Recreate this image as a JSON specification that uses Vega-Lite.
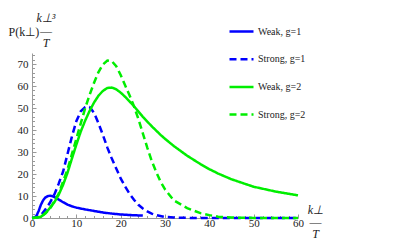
{
  "$schema": "https://vega.github.io/schema/vega-lite/v6.json",
  "autosize": {"type": "none"},
  "width": 266,
  "height": 165,
  "padding": {"left": 32, "top": 53, "right": 113, "bottom": 29},
  "background": "white",
  "config": {"view": {"stroke": null}, "font": "Liberation Serif"},
  "title": {
    "text": ["k⊥³", "―", "T"],
    "font": "Liberation Serif",
    "fontStyle": "italic",
    "fontSize": 12,
    "fontWeight": "normal",
    "lineHeight": 12.5,
    "anchor": "start",
    "align": "center",
    "baseline": "top",
    "frame": "group",
    "dx": 14,
    "dy": 32,
    "offset": 0,
    "color": "#222"
  },
  "data": {
    "values": [
      {"series": "Weak, g=1", "k": 0, "v": 0},
      {"series": "Weak, g=1", "k": 0.5, "v": 0.1},
      {"series": "Weak, g=1", "k": 1, "v": 1.0},
      {"series": "Weak, g=1", "k": 1.5, "v": 3.2},
      {"series": "Weak, g=1", "k": 2, "v": 6.0},
      {"series": "Weak, g=1", "k": 2.5, "v": 8.0},
      {"series": "Weak, g=1", "k": 3, "v": 9.3},
      {"series": "Weak, g=1", "k": 3.5, "v": 9.9},
      {"series": "Weak, g=1", "k": 4, "v": 10.1},
      {"series": "Weak, g=1", "k": 4.5, "v": 10.0},
      {"series": "Weak, g=1", "k": 5, "v": 9.6},
      {"series": "Weak, g=1", "k": 6, "v": 8.4},
      {"series": "Weak, g=1", "k": 7, "v": 7.2},
      {"series": "Weak, g=1", "k": 8, "v": 6.1},
      {"series": "Weak, g=1", "k": 9, "v": 5.3},
      {"series": "Weak, g=1", "k": 10, "v": 4.7},
      {"series": "Weak, g=1", "k": 12, "v": 3.9},
      {"series": "Weak, g=1", "k": 14, "v": 3.2},
      {"series": "Weak, g=1", "k": 16, "v": 2.5},
      {"series": "Weak, g=1", "k": 18, "v": 2.0},
      {"series": "Weak, g=1", "k": 20, "v": 1.6},
      {"series": "Weak, g=1", "k": 22, "v": 1.35},
      {"series": "Weak, g=1", "k": 25, "v": 1.1},

      {"series": "Strong, g=1", "k": 0, "v": 0},
      {"series": "Strong, g=1", "k": 1, "v": 0.2},
      {"series": "Strong, g=1", "k": 2, "v": 1.2},
      {"series": "Strong, g=1", "k": 3, "v": 3.8},
      {"series": "Strong, g=1", "k": 4, "v": 6.8},
      {"series": "Strong, g=1", "k": 5, "v": 10.5},
      {"series": "Strong, g=1", "k": 6, "v": 15.5},
      {"series": "Strong, g=1", "k": 7, "v": 21},
      {"series": "Strong, g=1", "k": 8, "v": 29},
      {"series": "Strong, g=1", "k": 9, "v": 37},
      {"series": "Strong, g=1", "k": 10, "v": 44},
      {"series": "Strong, g=1", "k": 11, "v": 48.5},
      {"series": "Strong, g=1", "k": 12, "v": 50.4},
      {"series": "Strong, g=1", "k": 12.6, "v": 50.7},
      {"series": "Strong, g=1", "k": 13, "v": 50.4},
      {"series": "Strong, g=1", "k": 14, "v": 47.8},
      {"series": "Strong, g=1", "k": 15, "v": 43},
      {"series": "Strong, g=1", "k": 16, "v": 37.7},
      {"series": "Strong, g=1", "k": 17, "v": 32},
      {"series": "Strong, g=1", "k": 18, "v": 27},
      {"series": "Strong, g=1", "k": 19, "v": 22.5},
      {"series": "Strong, g=1", "k": 20, "v": 18},
      {"series": "Strong, g=1", "k": 21, "v": 14.3},
      {"series": "Strong, g=1", "k": 22, "v": 11},
      {"series": "Strong, g=1", "k": 23, "v": 8.3},
      {"series": "Strong, g=1", "k": 24, "v": 6},
      {"series": "Strong, g=1", "k": 25, "v": 4.3},
      {"series": "Strong, g=1", "k": 26, "v": 3},
      {"series": "Strong, g=1", "k": 27, "v": 2},
      {"series": "Strong, g=1", "k": 28, "v": 1.3},
      {"series": "Strong, g=1", "k": 30, "v": 0.5},
      {"series": "Strong, g=1", "k": 32, "v": 0.2},
      {"series": "Strong, g=1", "k": 35, "v": 0.05},
      {"series": "Strong, g=1", "k": 40, "v": 0},
      {"series": "Strong, g=1", "k": 50, "v": 0},
      {"series": "Strong, g=1", "k": 60, "v": 0},

      {"series": "Weak, g=2", "k": 0, "v": 0},
      {"series": "Weak, g=2", "k": 1, "v": 0.1},
      {"series": "Weak, g=2", "k": 2, "v": 0.6},
      {"series": "Weak, g=2", "k": 3, "v": 2},
      {"series": "Weak, g=2", "k": 4, "v": 4.5},
      {"series": "Weak, g=2", "k": 5, "v": 7},
      {"series": "Weak, g=2", "k": 6, "v": 10.5},
      {"series": "Weak, g=2", "k": 7, "v": 15},
      {"series": "Weak, g=2", "k": 8, "v": 20.5},
      {"series": "Weak, g=2", "k": 9, "v": 27},
      {"series": "Weak, g=2", "k": 10, "v": 33.3},
      {"series": "Weak, g=2", "k": 11, "v": 39.3},
      {"series": "Weak, g=2", "k": 12, "v": 44.3},
      {"series": "Weak, g=2", "k": 13, "v": 48.7},
      {"series": "Weak, g=2", "k": 14, "v": 52.5},
      {"series": "Weak, g=2", "k": 15, "v": 55.6},
      {"series": "Weak, g=2", "k": 16, "v": 57.8},
      {"series": "Weak, g=2", "k": 17, "v": 59.1},
      {"series": "Weak, g=2", "k": 18, "v": 59.3},
      {"series": "Weak, g=2", "k": 19, "v": 58.5},
      {"series": "Weak, g=2", "k": 20, "v": 57},
      {"series": "Weak, g=2", "k": 21, "v": 55.1},
      {"series": "Weak, g=2", "k": 22, "v": 53},
      {"series": "Weak, g=2", "k": 23, "v": 50.8},
      {"series": "Weak, g=2", "k": 25, "v": 46},
      {"series": "Weak, g=2", "k": 27, "v": 41.7},
      {"series": "Weak, g=2", "k": 29, "v": 37.8},
      {"series": "Weak, g=2", "k": 30, "v": 36},
      {"series": "Weak, g=2", "k": 32, "v": 32.7},
      {"series": "Weak, g=2", "k": 35, "v": 28.3},
      {"series": "Weak, g=2", "k": 38, "v": 24.5},
      {"series": "Weak, g=2", "k": 40, "v": 22.2},
      {"series": "Weak, g=2", "k": 42, "v": 20.2},
      {"series": "Weak, g=2", "k": 45, "v": 17.6},
      {"series": "Weak, g=2", "k": 50, "v": 14.2},
      {"series": "Weak, g=2", "k": 55, "v": 12},
      {"series": "Weak, g=2", "k": 60, "v": 10.3},

      {"series": "Strong, g=2", "k": 0, "v": 0},
      {"series": "Strong, g=2", "k": 2, "v": 0.5},
      {"series": "Strong, g=2", "k": 4, "v": 4},
      {"series": "Strong, g=2", "k": 6, "v": 11},
      {"series": "Strong, g=2", "k": 8, "v": 22},
      {"series": "Strong, g=2", "k": 9, "v": 29},
      {"series": "Strong, g=2", "k": 10, "v": 36},
      {"series": "Strong, g=2", "k": 11, "v": 43},
      {"series": "Strong, g=2", "k": 12, "v": 50},
      {"series": "Strong, g=2", "k": 13, "v": 56},
      {"series": "Strong, g=2", "k": 14, "v": 61.5},
      {"series": "Strong, g=2", "k": 15, "v": 66.3},
      {"series": "Strong, g=2", "k": 16, "v": 69.8},
      {"series": "Strong, g=2", "k": 17, "v": 71.6},
      {"series": "Strong, g=2", "k": 18, "v": 71.3},
      {"series": "Strong, g=2", "k": 19, "v": 69},
      {"series": "Strong, g=2", "k": 20, "v": 65},
      {"series": "Strong, g=2", "k": 21, "v": 60.3},
      {"series": "Strong, g=2", "k": 22, "v": 55.8},
      {"series": "Strong, g=2", "k": 23, "v": 50.8},
      {"series": "Strong, g=2", "k": 24, "v": 45},
      {"series": "Strong, g=2", "k": 25, "v": 38.5},
      {"series": "Strong, g=2", "k": 26, "v": 32},
      {"series": "Strong, g=2", "k": 27, "v": 26},
      {"series": "Strong, g=2", "k": 28, "v": 21},
      {"series": "Strong, g=2", "k": 29, "v": 16.5},
      {"series": "Strong, g=2", "k": 30, "v": 13},
      {"series": "Strong, g=2", "k": 32, "v": 8},
      {"series": "Strong, g=2", "k": 35, "v": 4.5},
      {"series": "Strong, g=2", "k": 38, "v": 2.2},
      {"series": "Strong, g=2", "k": 40, "v": 1.3},
      {"series": "Strong, g=2", "k": 42, "v": 0.6},
      {"series": "Strong, g=2", "k": 45, "v": 0.2},
      {"series": "Strong, g=2", "k": 50, "v": 0.05},
      {"series": "Strong, g=2", "k": 55, "v": 0},
      {"series": "Strong, g=2", "k": 60, "v": 0}
    ]
  },
  "mark": {"type": "line", "strokeWidth": 2.5},
  "encoding": {
    "x": {
      "field": "k",
      "type": "quantitative",
      "scale": {"domain": [0, 60], "nice": false, "zero": false},
      "axis": {
        "values": [0,2,4,6,8,10,12,14,16,18,20,22,24,26,28,30,32,34,36,38,40,42,44,46,48,50,52,54,56,58,60],
        "labelExpr": "datum.value % 10 === 0 ? datum.label : ''",
        "labelOverlap": false,
        "labelFlush": false,
        "grid": false,
        "domainColor": "#999",
        "tickColor": "#999",
        "tickSize": {"condition": {"test": "datum.value % 10 === 0", "value": -4}, "value": -2.5},
        "labelFont": "Liberation Serif",
        "labelFontSize": 11,
        "labelColor": "#222",
        "labelPadding": 3,
        "title": ["k⊥", "―", "T"],
        "titleFont": "Liberation Serif",
        "titleFontStyle": "italic",
        "titleFontWeight": "normal",
        "titleFontSize": 12,
        "titleLineHeight": 12,
        "titleColor": "#222",
        "titleAlign": "center",
        "titleBaseline": "top",
        "titleX": 283,
        "titleY": -14
      }
    },
    "y": {
      "field": "v",
      "type": "quantitative",
      "scale": {"domain": [0, 75], "nice": false},
      "axis": {
        "values": [0,2,4,6,8,10,12,14,16,18,20,22,24,26,28,30,32,34,36,38,40,42,44,46,48,50,52,54,56,58,60,62,64,66,68,70,72,74],
        "labelExpr": "datum.value % 10 === 0 ? datum.label : ''",
        "labelOverlap": false,
        "labelFlush": false,
        "grid": false,
        "domainColor": "#999",
        "tickColor": "#999",
        "tickSize": {"condition": {"test": "datum.value % 10 === 0", "value": -4}, "value": -2.5},
        "labelFont": "Liberation Serif",
        "labelFontSize": 11,
        "labelColor": "#222",
        "labelPadding": 8,
        "title": "P(k⊥)",
        "titleFont": "Liberation Serif",
        "titleFontWeight": "normal",
        "titleFontSize": 12,
        "titleColor": "#222",
        "titleAngle": 0,
        "titleAlign": "left",
        "titleBaseline": "middle",
        "titleX": -24,
        "titleY": -22
      }
    },
    "color": {
      "field": "series",
      "type": "nominal",
      "sort": ["Weak, g=1", "Strong, g=1", "Weak, g=2", "Strong, g=2"],
      "scale": {
        "domain": ["Weak, g=1", "Strong, g=1", "Weak, g=2", "Strong, g=2"],
        "range": ["#0000ff", "#0000ff", "#00ee00", "#00ee00"]
      },
      "legend": {
        "title": null,
        "orient": "none",
        "legendX": 196,
        "legendY": -35,
        "symbolType": "stroke",
        "symbolSize": 576,
        "symbolStrokeWidth": 2.5,
        "labelFont": "Liberation Serif",
        "labelFontSize": 10,
        "labelColor": "#222",
        "labelOffset": 3,
        "rowPadding": 8.7
      }
    },
    "strokeDash": {
      "field": "series",
      "type": "nominal",
      "sort": ["Weak, g=1", "Strong, g=1", "Weak, g=2", "Strong, g=2"],
      "scale": {
        "domain": ["Weak, g=1", "Strong, g=1", "Weak, g=2", "Strong, g=2"],
        "range": [[1, 0], [7, 4], [1, 0], [7, 4]]
      },
      "legend": {
        "title": null,
        "orient": "none",
        "legendX": 196,
        "legendY": -35,
        "symbolType": "stroke",
        "symbolSize": 576,
        "symbolStrokeWidth": 2.5,
        "labelFont": "Liberation Serif",
        "labelFontSize": 10,
        "labelColor": "#222",
        "labelOffset": 3,
        "rowPadding": 8.7
      }
    }
  }
}
